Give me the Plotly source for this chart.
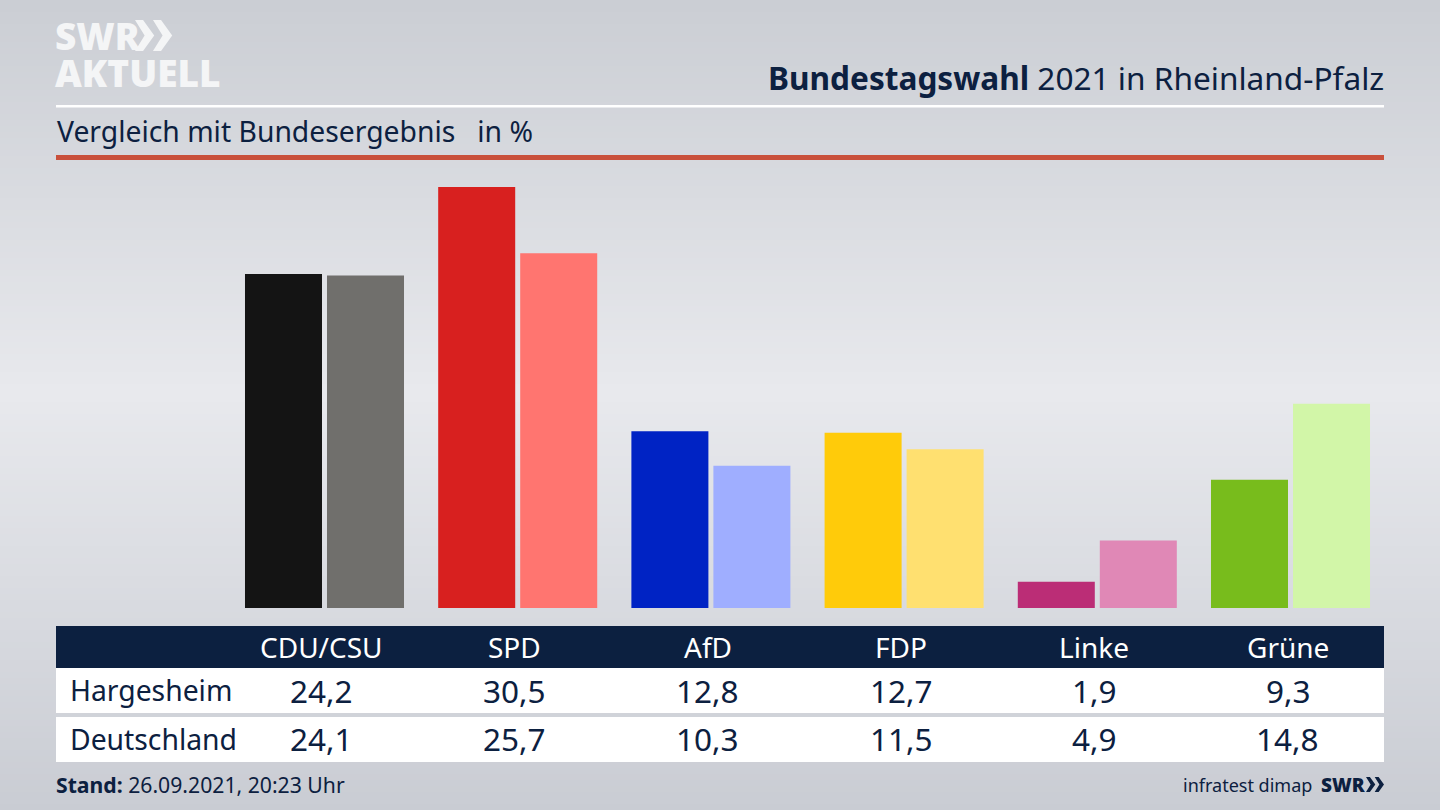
import plotly.graph_objects as go

parties = ["CDU/CSU", "SPD", "AfD", "FDP", "Linke", "Grüne"]
hargesheim = [24.2, 30.5, 12.8, 12.7, 1.9, 9.3]
deutschland = [24.1, 25.7, 10.3, 11.5, 4.9, 14.8]
colors_dark = ["#141414", "#d8201f", "#0023c4", "#ffcb0a", "#bb2d76", "#78bc1c"]
colors_light = ["#706f6c", "#ff7570", "#9faeff", "#ffe070", "#e088b6", "#d2f6a8"]

W, H = 1440, 810
NAVY = "#0c2040"
FONT = "Noto Sans"


def px(x):
    return x / W


def py(y):
    return 1 - y / H


def mix(a, b, t):
    return tuple(round(a[i] + (b[i] - a[i]) * t) for i in range(3))


def rect(x0, y0, x1, y1, color):
    return dict(type="rect", xref="paper", yref="paper", x0=px(x0), x1=px(x1),
                y0=py(y0), y1=py(y1), fillcolor=color, line_width=0, layer="below")


def label(x, y, text, size, color=NAVY, anchor="left", weight=None):
    return dict(xref="paper", yref="paper", x=px(x), y=py(y), text=text, showarrow=False,
                xanchor=anchor, yanchor="middle",
                font=dict(family=FONT, size=size, color=color, weight=weight))


def chevrons(x, y, h, color):
    # the two arrows of the SWR logo
    out = []
    for dx in (0, h * 0.58):
        w = h * 0.62
        pts = [(x + dx, y), (x + dx + w * 0.42, y), (x + dx + w, y + h / 2),
               (x + dx + w * 0.42, y + h), (x + dx, y + h), (x + dx + w * 0.5, y + h / 2)]
        path = "M" + " L".join(f"{px(a)},{py(b)}" for a, b in pts) + " Z"
        out.append(dict(type="path", xref="paper", yref="paper", path=path,
                        fillcolor=color, line_width=0, layer="below"))
    return out


fig = go.Figure()
fig.add_bar(x=parties, y=hargesheim, name="Hargesheim", marker_color=colors_dark, marker_line_width=0)
fig.add_bar(x=parties, y=deutschland, name="Deutschland", marker_color=colors_light, marker_line_width=0)

# background gradient, bright in the middle
shapes = []
top, mid, bottom = (203, 206, 212), (232, 233, 237), (201, 204, 211)
for y in range(0, H, 6):
    if y < 390:
        c = mix(top, mid, y / 390)
    else:
        c = mix(mid, bottom, (y - 390) / (H - 390))
    shapes.append(rect(0, y, W, y + 6.5, f"rgb{c}"))

shapes += [
    rect(56, 105, 1384, 107.5, "white"),
    rect(56, 155, 1384, 160, "#c9503c"),
    rect(56, 626, 1384, 668, NAVY),
    rect(56, 668, 1384, 713, "white"),
    rect(56, 717, 1384, 762, "white"),
]
shapes += chevrons(135, 20, 31, "#f4f5f6")
shapes += chevrons(1366, 777, 15, NAVY)

annotations = [
    label(53, 36, "SWR", 37, "#f4f5f6", weight=900),
    label(53, 72, "AKTUELL", 37, "#f4f5f6", weight=900),
    label(1386, 77, "<b>Bundestagswahl</b> 2021 in Rheinland-Pfalz", 31.6, anchor="right"),
    label(55, 131.5, "Vergleich mit Bundesergebnis   in %", 28.3),
    label(68, 690, "Hargesheim", 28.3),
    label(68, 738.5, "Deutschland", 28.3),
    label(54, 784.5, "<b>Stand:</b> 26.09.2021, 20:23 Uhr", 21.2),
    label(1314, 784.5, "infratest dimap", 18, anchor="right"),
    label(1368, 784.5, "SWR", 19, anchor="right", weight=900),
]
for i, p in enumerate(parties):
    for y, text, size, color in [
        (646.5, p, 28, "white"),
        (690, f"{hargesheim[i]:.1f}".replace(".", ","), 31.5, NAVY),
        (738.5, f"{deutschland[i]:.1f}".replace(".", ","), 31.5, NAVY),
    ]:
        annotations.append(dict(xref="x", yref="paper", x=p, y=py(y), text=text, showarrow=False,
                                xshift=-3, xanchor="center", yanchor="middle",
                                font=dict(family=FONT, size=size, color=color)))

fig.update_layout(
    width=W, height=H, margin=dict(l=0, r=0, t=0, b=0), autosize=False,
    barmode="group", bargap=0.151, bargroupgap=0.061, showlegend=False,
    paper_bgcolor="#dcdde2", plot_bgcolor="rgba(0,0,0,0)",
    shapes=shapes, annotations=annotations,
    xaxis=dict(domain=[px(227.9), px(1387.1)], visible=False, fixedrange=True),
    yaxis=dict(domain=[py(608), py(160)], range=[0, 448 / 13.8], visible=False, fixedrange=True),
)

fig.write_html("out.html", config=dict(displayModeBar=False),
               post_script="document.body.style.margin='0';")
